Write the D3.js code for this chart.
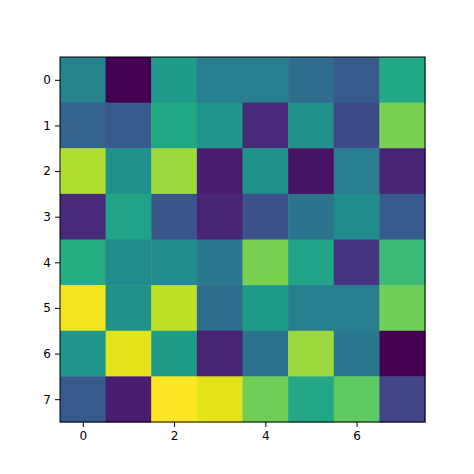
<!DOCTYPE html>
<html>
<head>
<meta charset="utf-8">
<script src="https://cdn.jsdelivr.net/npm/d3@7"></script>
<style>
  body { margin: 0; background: #fff; }
  text { font-family: "DejaVu Sans", sans-serif; font-size: 12px; fill: #000; }
</style>
</head>
<body>
<svg id="chart" width="474" height="474"></svg>
<script>
var rows = [0, 1, 2, 3, 4, 5, 6, 7];
var cols = [0, 1, 2, 3, 4, 5, 6, 7];
var xTicks = [0, 2, 4, 6];
var yTicks = [0, 1, 2, 3, 4, 5, 6, 7];

// cell values, row by row (0..1 on viridis)
var values = [
  [0.45, 0.00, 0.55, 0.42, 0.42, 0.35, 0.28, 0.60],
  [0.32, 0.28, 0.60, 0.52, 0.12, 0.50, 0.22, 0.80],
  [0.88, 0.50, 0.85, 0.08, 0.50, 0.05, 0.42, 0.10],
  [0.12, 0.58, 0.26, 0.10, 0.25, 0.38, 0.48, 0.28],
  [0.62, 0.48, 0.48, 0.40, 0.80, 0.58, 0.15, 0.68],
  [0.98, 0.50, 0.90, 0.35, 0.55, 0.42, 0.42, 0.78],
  [0.52, 0.96, 0.55, 0.10, 0.38, 0.85, 0.40, 0.00],
  [0.28, 0.08, 1.00, 0.96, 0.78, 0.60, 0.75, 0.20]
];

var svg = d3.select("#chart");
var plotLeft = 60, plotTop = 57, size = 365;

var x = d3.scaleBand().domain(cols).range([plotLeft, plotLeft + size]);
var y = d3.scaleBand().domain(rows).range([plotTop, plotTop + size]);
var color = d3.scaleSequential(d3.interpolateViridis).domain([0, 1]);

var cells = [];
values.forEach(function(r, i) {
  r.forEach(function(v, j) { cells.push({row: i, col: j, v: v}); });
});

svg.append("g").selectAll("rect").data(cells).join("rect")
  .attr("x", d => x(d.col))
  .attr("y", d => y(d.row))
  .attr("width", x.bandwidth() + 0.5)
  .attr("height", y.bandwidth() + 0.5)
  .attr("fill", d => color(d.v));

svg.append("rect")
  .attr("x", plotLeft).attr("y", plotTop)
  .attr("width", size).attr("height", size)
  .attr("fill", "none").attr("stroke", "#000").attr("stroke-width", 1);

var xAxis = d3.axisBottom(d3.scalePoint().domain(cols).range([plotLeft + x.bandwidth() / 2, plotLeft + size - x.bandwidth() / 2]))
  .tickValues(xTicks).tickSize(5).tickPadding(4);
var yAxis = d3.axisLeft(d3.scalePoint().domain(rows).range([plotTop + y.bandwidth() / 2, plotTop + size - y.bandwidth() / 2]))
  .tickValues(yTicks).tickSize(5).tickPadding(4);

var gx = svg.append("g").attr("transform", "translate(0," + (plotTop + size) + ")").call(xAxis);
var gy = svg.append("g").attr("transform", "translate(" + plotLeft + ",0)").call(yAxis);
[gx, gy].forEach(function(g) {
  g.select(".domain").remove();
  g.selectAll("text").style("font-size", "12px").style("font-family", "DejaVu Sans, sans-serif");
});
</script>
</body>
</html>
